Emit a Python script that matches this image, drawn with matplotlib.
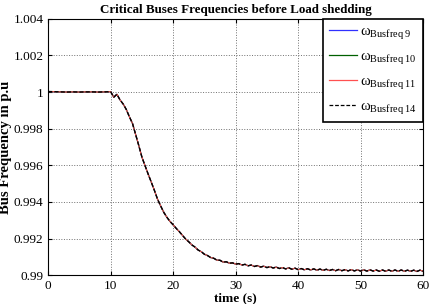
import matplotlib
matplotlib.use("Agg")
import matplotlib.pyplot as plt

plt.rcParams["font.family"] = ["Liberation Serif", "DejaVu Serif"]
plt.rcParams["mathtext.fontset"] = "custom"
plt.rcParams["mathtext.rm"] = "Liberation Serif"
plt.rcParams["mathtext.it"] = "Liberation Serif:italic"

# time axis (s)
time_s = [0, 1, 2, 3, 4, 5, 6, 7, 8, 9, 10, 10.5, 11, 11.5, 12, 12.5, 13, 13.5,
          14, 14.5, 15, 15.5, 16, 16.5, 17, 17.5, 18, 18.5, 19, 19.5,
          20, 20.5, 21, 21.5, 22, 22.5, 23, 23.5, 24, 24.5, 25, 25.5, 26, 26.5,
          27, 27.5, 28, 28.5, 29, 29.5, 30, 30.5, 31, 31.5, 32, 32.5, 33, 33.5,
          34, 34.5, 35, 35.5, 36, 36.5, 37, 37.5, 38, 38.5, 39, 39.5, 40, 40.5,
          41, 41.5, 42, 42.5, 43, 43.5, 44, 44.5, 45, 45.5, 46, 46.5, 47, 47.5,
          48, 48.5, 49, 49.5, 50, 50.5, 51, 51.5, 52, 52.5, 53, 53.5, 54, 54.5,
          55, 55.5, 56, 56.5, 57, 57.5, 58, 58.5, 59, 59.5, 60]

# bus frequency in p.u (all critical buses follow the same trajectory)
freq_pu = [1.00003, 1.00002, 1.00001, 1.00000, 1.00001, 1.00000, 1.00001, 1.00001,
           1.00000, 1.00001, 1.00002, 0.99972, 0.99988, 0.99957, 0.99935, 0.99905,
           0.99865, 0.99828, 0.99768, 0.99708, 0.99645, 0.99598, 0.99552, 0.99508,
           0.99463, 0.99415, 0.99378, 0.99343, 0.99316, 0.99293,
           0.99275, 0.99255, 0.99237, 0.99217, 0.99197, 0.99182, 0.99165, 0.99153,
           0.99137, 0.99128, 0.99114, 0.99107, 0.99096, 0.99092, 0.99082, 0.99081,
           0.99071, 0.99073, 0.99065, 0.99067, 0.99060, 0.99063, 0.99055, 0.99059,
           0.99051, 0.99055, 0.99047, 0.99052, 0.99044, 0.99049, 0.99041, 0.99046,
           0.99039, 0.99044, 0.99036, 0.99041, 0.99034, 0.99040, 0.99032, 0.99038,
           0.99030, 0.99036, 0.99029, 0.99035, 0.99028, 0.99034, 0.99027, 0.99033,
           0.99026, 0.99032, 0.99025, 0.99031, 0.99024, 0.99031, 0.99024, 0.99030,
           0.99023, 0.99030, 0.99023, 0.99029, 0.99022, 0.99029, 0.99022, 0.99029,
           0.99022, 0.99028, 0.99021, 0.99028, 0.99021, 0.99028, 0.99021, 0.99028,
           0.99021, 0.99028, 0.99021, 0.99027, 0.99021, 0.99027, 0.99020, 0.99027,
           0.99021]

freq_bus9 = freq_pu
freq_bus10 = freq_pu
freq_bus11 = freq_pu
freq_bus14 = freq_pu

x_ticks = [0, 10, 20, 30, 40, 50, 60]
y_ticks = [0.99, 0.992, 0.994, 0.996, 0.998, 1.0, 1.002, 1.004]
y_tick_labels = ["0.99", "0.992", "0.994", "0.996", "0.998", "1", "1.002", "1.004"]

fig = plt.figure(figsize=(4.3, 3.04), dpi=100)
ax = fig.add_axes([0.112, 0.095, 0.872, 0.843])

ax.plot(time_s, freq_bus9, color="#3030ff", lw=0.8, label=r"ω$_{\mathrm{Busfreq\ 9}}$")
ax.plot(time_s, freq_bus10, color="#006000", lw=0.8, label=r"ω$_{\mathrm{Busfreq\ 10}}$")
ax.plot(time_s, freq_bus11, color="#ff5050", lw=0.8, label=r"ω$_{\mathrm{Busfreq\ 11}}$")
ax.plot(time_s, freq_bus14, color="black", lw=1.0, ls=(0, (3, 1.5)),
        label=r"ω$_{\mathrm{Busfreq\ 14}}$")

ax.set_xlim(0, 60)
ax.set_ylim(0.99, 1.004)
ax.set_xticks(x_ticks)
ax.set_yticks(y_ticks)
ax.set_yticklabels(y_tick_labels)
ax.tick_params(direction="in", top=True, right=True, labelsize=9.5, length=3)
ax.grid(True, color="#707070", ls=":", lw=0.7)
for s in ax.spines.values():
    s.set_linewidth(0.8)

ax.set_title("Critical Buses Frequencies before Load shedding",
             fontsize=9.4, fontweight="bold", pad=4)
ax.set_xlabel("time (s)", fontsize=9.5, fontweight="bold", labelpad=0)
ax.set_ylabel("Bus Frequency in p.u", fontsize=10.5, fontweight="bold", labelpad=1)

leg = ax.legend(loc="upper right", fontsize=10.5, fancybox=False, framealpha=1,
                edgecolor="black", borderaxespad=0, handlelength=1.9,
                handletextpad=0.25, labelspacing=0.6, borderpad=0.4)
leg.get_frame().set_linewidth(1.2)
for line in leg.get_lines():
    line.set_linewidth(0.9)

fig.savefig("out.png", dpi=100)
